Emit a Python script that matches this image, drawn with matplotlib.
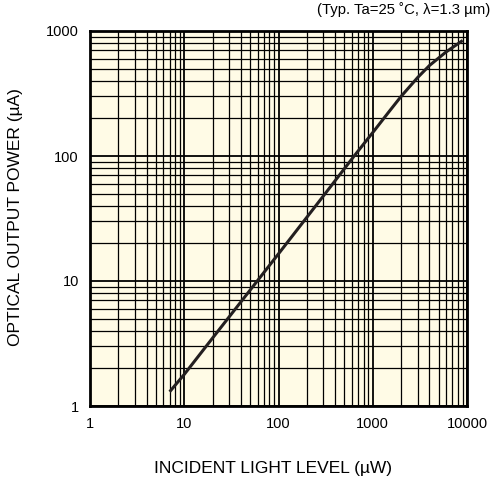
import numpy as np
import matplotlib.pyplot as plt
from matplotlib.ticker import FixedLocator, NullFormatter

plt.rcParams['font.family'] = ['Liberation Sans', 'DejaVu Sans']

# Curve (incident light in uW, output in uA)
light_uw = [7, 10, 20, 59.5, 100, 300, 635, 1000, 1500, 2000, 3000, 4000, 6000, 9000]
power_ua = [1.3, 1.79, 3.5, 10, 16.5, 48, 100, 154, 228, 300, 425, 530, 680, 840]

x_ticks = [1, 10, 100, 1000, 10000]
x_labels = ['1', '10', '100', '1000', '10000']
y_ticks = [1, 10, 100, 1000]
y_labels = ['1', '10', '100', '1000']

fig = plt.figure(figsize=(4.93, 4.8), dpi=100)
ax = fig.add_axes([90 / 493, 1 - 406 / 480, 377 / 493, 375 / 480])
ax.set_facecolor('#fffbe6')

ax.set_xscale('log')
ax.set_yscale('log')
ax.set_xlim(1, 10000)
ax.set_ylim(1, 1000)

# grid: every integer multiple in each decade
minor_x = [m * 10 ** d for d in range(4) for m in range(2, 10)]
minor_y = [m * 10 ** d for d in range(3) for m in range(2, 10)]
ax.xaxis.set_major_locator(FixedLocator(x_ticks))
ax.yaxis.set_major_locator(FixedLocator(y_ticks))
ax.xaxis.set_minor_locator(FixedLocator(minor_x))
ax.yaxis.set_minor_locator(FixedLocator(minor_y))
ax.xaxis.set_minor_formatter(NullFormatter())
ax.yaxis.set_minor_formatter(NullFormatter())
ax.set_xticklabels(x_labels)
ax.set_yticklabels(y_labels)
ax.grid(True, which='major', color='black', linewidth=1.3)
ax.grid(True, which='minor', color='black', linewidth=0.9)
ax.tick_params(which='both', length=0, labelsize=10.5, pad=8)
for s in ax.spines.values():
    s.set_linewidth(2)

ax.plot(light_uw, power_ua, color='#231f20', linewidth=2.2,
        solid_capstyle='butt', solid_joinstyle='round')

fig.text(273.5 / 493, 1 - 468 / 480, 'INCIDENT LIGHT LEVEL (µW)', fontsize=12.5,
         ha='center', va='center')
fig.text(16 / 493, 1 - 217 / 480, 'OPTICAL OUTPUT POWER (µA)', fontsize=12.5,
         ha='center', va='center', rotation=90)
fig.text(490 / 493, 1 - 10 / 480, '(Typ. Ta=25 ˚C, λ=1.3 µm)', fontsize=10.7,
         ha='right', va='center')

plt.savefig('out.png', dpi=100)
